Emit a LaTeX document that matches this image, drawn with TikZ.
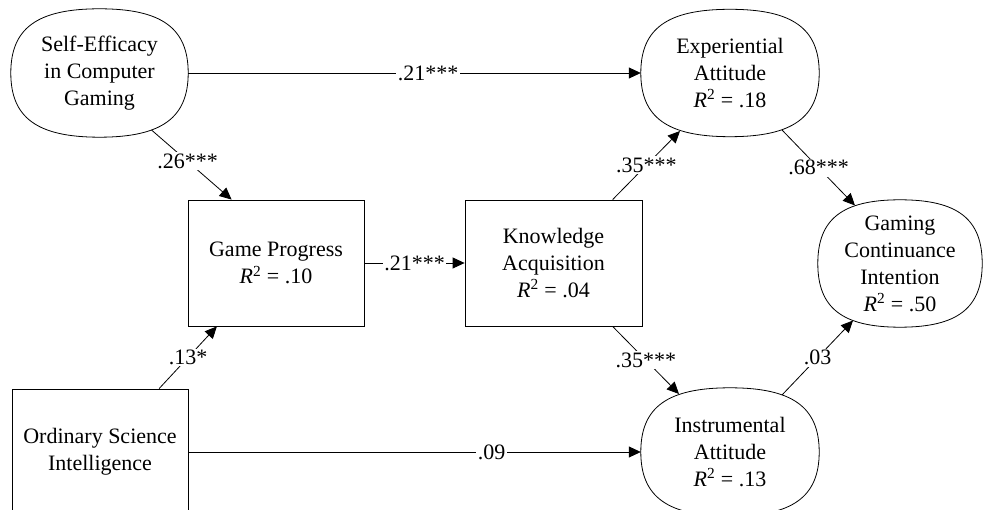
\documentclass[tikz,border=0pt]{standalone}
\usepackage{fontspec}
\setmainfont{Liberation Serif}
\usetikzlibrary{arrows.meta,calc}

\newcommand{\rsq}[1]{{\itshape R}\textsuperscript{2} = #1}
\newcommand{\bulge}{0.7}
% rounded outline of a latent variable
\newcommand{\latentoutline}[1]{%
  \draw[line width=0.8pt] (#1.north)
    .. controls ($(#1.north)!\bulge!(#1.north east)$) and ($(#1.east)!\bulge!(#1.north east)$) .. (#1.east)
    .. controls ($(#1.east)!\bulge!(#1.south east)$) and ($(#1.south)!\bulge!(#1.south east)$) .. (#1.south)
    .. controls ($(#1.south)!\bulge!(#1.south west)$) and ($(#1.west)!\bulge!(#1.south west)$) .. (#1.west)
    .. controls ($(#1.west)!\bulge!(#1.north west)$) and ($(#1.north)!\bulge!(#1.north west)$) .. cycle;}

\begin{document}
\begin{tikzpicture}[x=1pt, y=-1pt,
    every node/.style={font=\fontsize{22}{27}\selectfont, align=center},
    latent/.style={rectangle, inner sep=0pt, minimum width=178pt, minimum height=127pt},
    observed/.style={draw, rectangle, line width=0.8pt, inner sep=0pt, minimum width=176pt, minimum height=126pt},
    path/.style={line width=0.8pt, -{Triangle[length=12pt, width=11pt]}},
    coef/.style={fill=white, inner sep=1.5pt}]
    \useasboundingbox (0,0) rectangle (985,510);
    \clip (0,0) rectangle (985,510);
    % latent variables
    \node[latent, minimum width=177pt, minimum height=128pt] (efficacy) at (99.5, 73) {Self-Efficacy\\in Computer\\Gaming};
    \node[latent] (experiential) at (730, 73) {Experiential\\Attitude\\\rsq{.18}};
    \node[latent, minimum width=164pt] (intention) at (900, 263.5) {Gaming\\Continuance\\Intention\\\rsq{.50}};
    \node[latent, minimum height=128pt] (instrumental) at (730, 452) {Instrumental\\Attitude\\\rsq{.13}};
    \latentoutline{efficacy}
    \latentoutline{experiential}
    \latentoutline{intention}
    \latentoutline{instrumental}
    % observed variables
    \node[observed] (progress) at (276, 263) {Game Progress\\\rsq{.10}};
    \node[observed, minimum width=177pt] (knowledge) at (553.5, 263) {Knowledge\\Acquisition\\\rsq{.04}};
    \node[observed] (intelligence) at (100, 452) {Ordinary Science\\Intelligence};
    % paths
    \draw[path] (efficacy.east) -- node[coef, pos=.53] {.21***} (experiential.west);
    \draw[path] ($(efficacy.center)+(52,57)$) -- node[coef, pos=.45] {.26***} (progress.125);
    \draw[path] (intelligence.47) -- node[coef] {.13*} (progress.-133);
    \draw[path] (progress.east) -- node[coef] {.21***} (knowledge.west);
    \draw[path] (knowledge.47) -- node[coef] {.35***} ($(experiential.center)+(-50,58)$);
    \draw[path] (knowledge.-47) -- node[coef] {.35***} ($(instrumental.center)+(-51,-58)$);
    \draw[path] ($(experiential.center)+(52,57)$) -- node[coef] {.68***} ($(intention.center)+(-45,-58)$);
    \draw[path] ($(instrumental.center)+(52,-57)$) -- node[coef] {.03} ($(intention.center)+(-47,57)$);
    \draw[path] (intelligence.east) -- node[coef, pos=.67] {.09} (instrumental.west);
\end{tikzpicture}
\end{document}
